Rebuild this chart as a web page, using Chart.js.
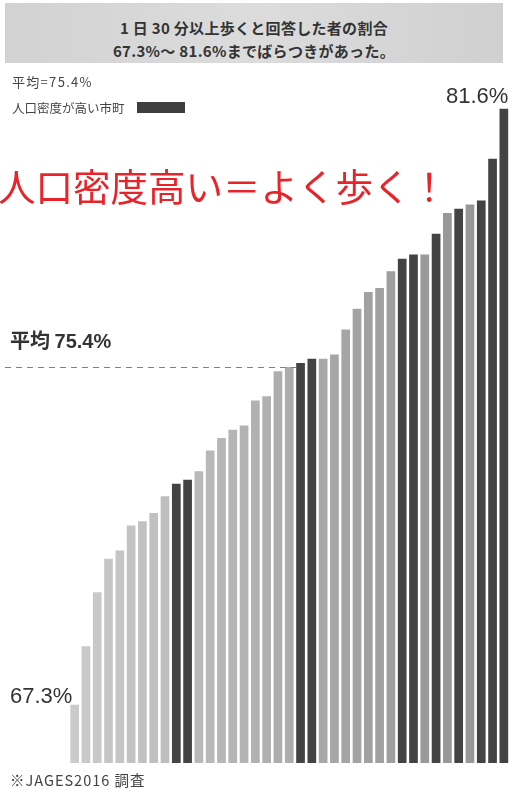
<!DOCTYPE html>
<html lang="ja">
<head>
<meta charset="utf-8">
<title>1日30分以上歩くと回答した者の割合</title>
<script src="https://cdn.jsdelivr.net/npm/chart.js@4.4.1/dist/chart.umd.min.js"></script>
<style>
    html, body {
        margin: 0;
        padding: 0;
        background: #fff;
    }
    body {
        position: relative;
        width: 513px;
        height: 789px;
        overflow: hidden;
        font-family: "Noto Sans CJK JP", "Noto Sans", sans-serif;
        color: #333;
    }
    #chart {
        position: absolute;
        left: 0;
        top: 0;
    }
    .txt {
        position: absolute;
        white-space: nowrap;
        line-height: 1;
    }
    #header {
        position: absolute;
        left: 5px;
        top: 3px;
        width: 498px;
        height: 60px;
        background: linear-gradient(90deg, #d2d2d2, #dcdcdc 50%, #d0d0d0);
        text-align: center;
        font-weight: bold;
        font-size: 15px;
        letter-spacing: 0.3px;
        color: #333;
    }
    #header div {
        position: absolute;
        left: 0;
        right: 0;
    }
    .num {
        font-family: "Liberation Sans", Arial, sans-serif;
    }
</style>
</head>
<body>
<canvas id="chart" width="513" height="789"></canvas>

<div id="header">
    <div style="top: 14px;">1 日 30 分以上歩くと回答した者の割合</div>
    <div style="top: 37px;">67.3%～ 81.6%までばらつきがあった。</div>
</div>

<div class="txt" style="left: 12px; top: 75px; font-size: 13px; letter-spacing: 1.3px; color: #444;">平均=75.4%</div>
<div class="txt" style="left: 12px; top: 102px; font-size: 12.5px; color: #444;">人口密度が高い市町</div>
<div style="position: absolute; left: 137px; top: 102px; width: 48px; height: 11px; background: #3e3e3e;"></div>

<div class="txt num" style="left: 446px; top: 85px; font-size: 22px; color: #333;">81.6%</div>

<div class="txt" style="left: -2px; top: 166px; font-size: 37.5px; color: #e8242b;">人口密度高い＝よく歩く！</div>

<div class="txt" style="left: 10px; top: 330px; font-size: 20px; font-weight: bold; color: #333;">平均 <span class="num">75.4%</span></div>

<div class="txt num" style="left: 10px; top: 685px; font-size: 22px; color: #333;">67.3%</div>

<div class="txt" style="left: 10px; top: 773px; font-size: 14.5px; letter-spacing: 1px; color: #444;">※JAGES2016 調査</div>

<script>
// Data: municipalities sorted by share of people walking 30+ min/day
const towns = Array.from({ length: 39 }, (_, i) => String(i + 1));
const walkRate = [
    67.3, 68.7, 70.0, 70.8, 71.0, 71.6, 71.7, 71.9, 72.3, 72.6,
    72.7, 72.9, 73.4, 73.7, 73.9, 74.0, 74.6, 74.7, 75.3, 75.4,
    75.5, 75.6, 75.6, 75.7, 76.3, 76.8, 77.2, 77.3, 77.7, 78.0,
    78.1, 78.1, 78.6, 79.1, 79.2, 79.3, 79.4, 80.4, 81.6
];
// 1 = high population density town
const highDensity = [
    0, 0, 0, 0, 0, 0, 0, 0, 0, 1,
    1, 0, 0, 0, 0, 0, 0, 0, 0, 0,
    1, 1, 0, 0, 0, 0, 0, 0, 0, 1,
    1, 0, 1, 0, 1, 0, 1, 1, 1
];
const average = 75.4;

// Bar colours: dark for dense towns, light grey getting darker to the right
function barColor(i) {
    if (highDensity[i]) return '#434343';
    const v = Math.max(152, Math.round(203 - i * 1.6));
    return `rgb(${v}, ${v}, ${v})`;
}

// Dashed average line from the left edge to the bars
const averageLine = {
    id: 'averageLine',
    afterDatasetsDraw(chart) {
        const { ctx, scales } = chart;
        const y = scales.y.getPixelForValue(average);
        const meta = chart.getDatasetMeta(0);
        const stopBar = meta.data[20];
        const xEnd = stopBar.x - stopBar.width / 2;
        ctx.save();
        ctx.strokeStyle = '#808080';
        ctx.lineWidth = 1;
        ctx.setLineDash([6, 5]);
        ctx.beginPath();
        ctx.moveTo(5, Math.round(y) + 0.5);
        ctx.lineTo(xEnd, Math.round(y) + 0.5);
        ctx.stroke();
        ctx.restore();
    }
};

const ctx = document.getElementById('chart').getContext('2d');
const chart = new Chart(ctx, {
    type: 'bar',
    data: {
        labels: towns,
        datasets: [{
            data: walkRate,
            backgroundColor: walkRate.map((_, i) => barColor(i)),
            borderWidth: 0,
            barPercentage: 0.77,
            categoryPercentage: 1.0
        }]
    },
    options: {
        responsive: false,
        animation: false,
        layout: {
            padding: { left: 69, right: 3.5, top: 90, bottom: 26 }
        },
        scales: {
            x: { display: false },
            y: { display: false, min: 65.9, max: 82.05 }
        },
        plugins: {
            legend: { display: false },
            tooltip: { enabled: false }
        }
    },
    plugins: [averageLine]
});
</script>
</body>
</html>
